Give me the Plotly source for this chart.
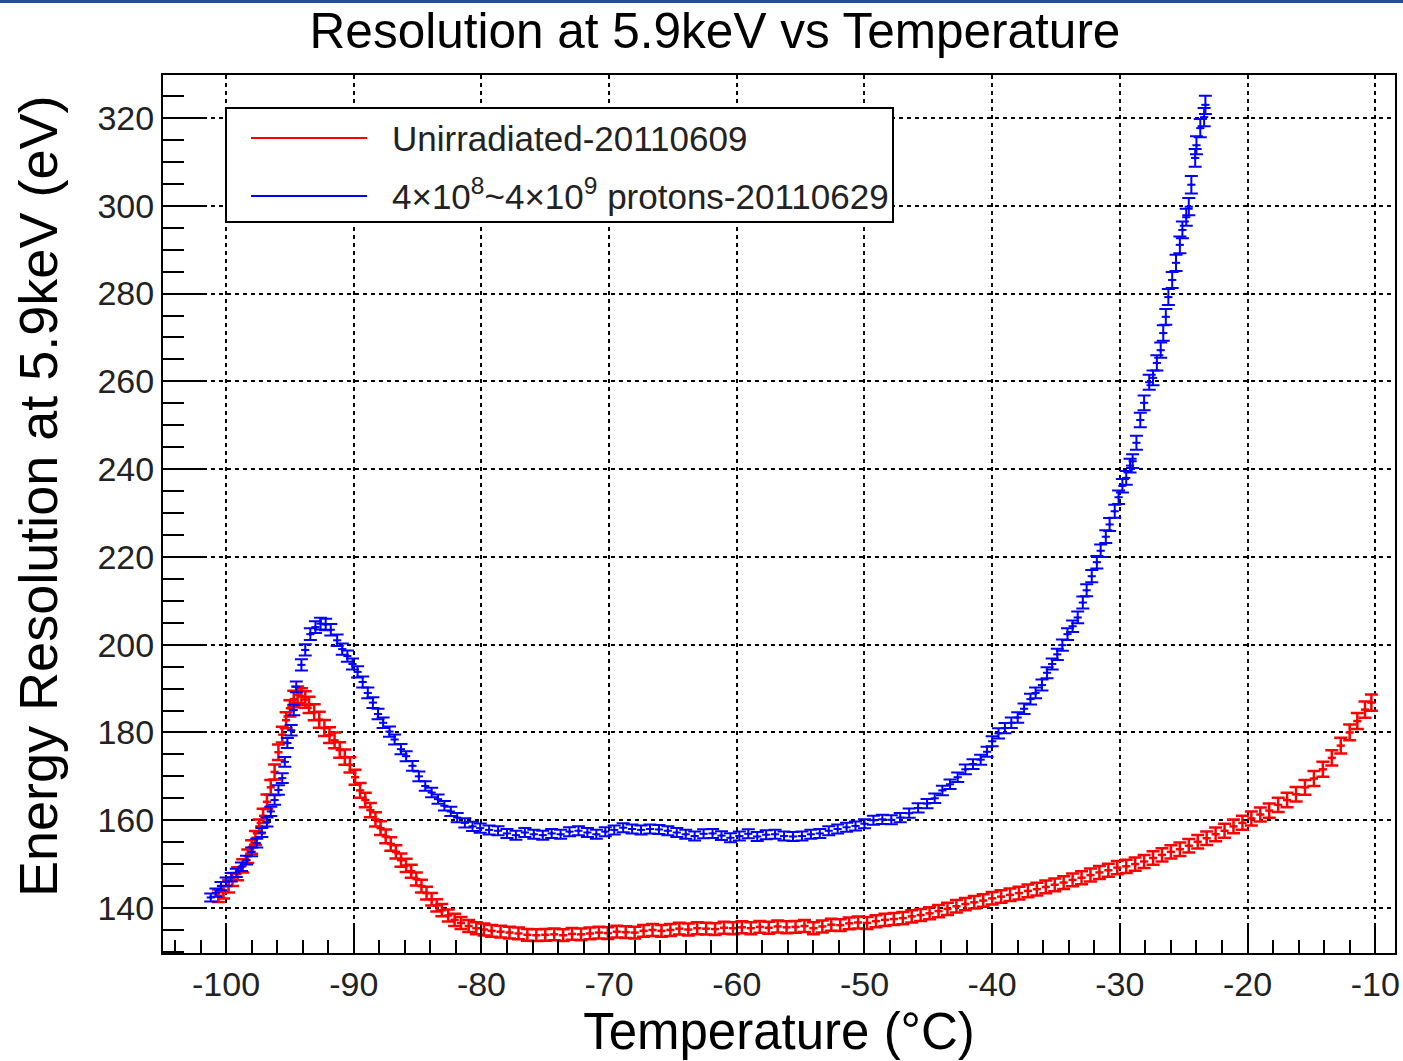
import plotly.graph_objects as go

# ---- data ----
red_T = [-100.6, -100.2, -99.8, -99.5, -99.1, -98.7, -98.3, -98.0, -97.7, -97.4, -97.1, -96.8, -96.5, -96.2,
         -95.9, -95.6, -95.3, -95.0, -94.7, -94.4, -94.1, -93.8, -93.5, -93.1, -92.7, -92.3, -91.9, -91.5,
         -91.1, -90.7, -90.3, -89.9, -89.5, -89.1, -88.7, -88.3, -87.9, -87.5, -87.1, -86.7, -86.3, -85.9,
         -85.5, -85.1, -84.7, -84.3, -83.9, -83.5, -83.1, -82.6, -82.1, -81.6, -81.0, -80.4, -79.8, -79.2,
         -78.5, -77.8, -77.1, -76.4, -75.7, -75.0, -74.3, -73.6, -72.9, -72.2, -71.5, -70.8, -70.1, -69.4,
         -68.7, -68.0, -67.3, -66.6, -65.9, -65.2, -64.5, -63.8, -63.1, -62.4, -61.7, -61.0, -60.3, -59.6,
         -58.9, -58.2, -57.5, -56.8, -56.1, -55.4, -54.7, -54.0, -53.3, -52.6, -51.9, -51.2, -50.5, -49.8,
         -49.1, -48.4, -47.7, -47.0, -46.3, -45.6, -44.9, -44.2, -43.5, -42.8, -42.1, -41.4, -40.7, -40.0,
         -39.3, -38.6, -37.9, -37.2, -36.5, -35.8, -35.1, -34.4, -33.7, -33.0, -32.3, -31.6, -30.9, -30.2,
         -29.5, -28.8, -28.1, -27.4, -26.7, -26.0, -25.3, -24.6, -23.9, -23.2, -22.5, -21.8, -21.1, -20.4,
         -19.7, -19.0, -18.3, -17.6, -16.9, -16.2, -15.5, -14.8, -14.1, -13.4, -12.7, -12.0, -11.4, -10.8,
         -10.3]
red_R = [142.8, 143.6, 145.0, 146.5, 147.8, 149.6, 151.8, 153.9, 156.0, 158.6, 161.0, 164.2, 167.5, 171.0,
         175.5, 179.5, 182.8, 185.5, 187.6, 188.6, 188.2, 187.5, 186.3, 184.6, 182.9, 181.0, 179.4, 178.2,
         176.0, 174.4, 172.6, 169.8, 166.8, 164.6, 162.3, 160.2, 158.2, 156.3, 154.6, 152.8, 150.9, 149.7,
         148.4, 146.6, 145.0, 143.4, 142.0, 140.6, 139.5, 138.3, 137.3, 136.6, 135.9, 135.4, 135.1, 134.8,
         134.6, 134.4, 134.2, 133.9, 133.8, 133.9, 134.0, 133.8, 134.1, 134.0, 134.2, 134.4, 134.3, 134.6,
         134.5, 134.4, 134.8, 135.0, 134.8, 135.0, 135.3, 135.1, 135.4, 135.3, 135.2, 135.5, 135.4, 135.6,
         135.4, 135.7, 135.5, 135.8, 135.6, 135.7, 135.9, 135.4, 135.8, 136.2, 136.1, 136.5, 136.7, 136.6,
         137.0, 137.3, 137.5, 137.7, 138.1, 138.4, 138.8, 139.3, 139.8, 140.4, 140.9, 141.3, 141.7, 142.2,
         142.6, 143.0, 143.4, 143.9, 144.3, 144.8, 145.3, 145.8, 146.4, 146.9, 147.5, 148.1, 148.6, 149.2,
         149.5, 150.0, 150.6, 151.4, 152.1, 152.8, 153.4, 154.2, 155.1, 155.9, 156.8, 157.6, 158.6, 159.4,
         160.4, 161.3, 162.2, 163.5, 164.6, 165.9, 167.5, 169.5, 171.6, 174.2, 177.0, 180.0, 182.6, 185.2,
         186.8]

blue_T = [-101.2, -100.8, -100.4, -100.0, -99.6, -99.2, -98.8, -98.4, -98.0, -97.6, -97.2, -96.8, -96.5,
          -96.2, -95.9, -95.6, -95.4, -95.2, -94.9, -94.7, -94.5, -94.1, -93.8, -93.4, -93.0, -92.6, -92.2,
          -91.8, -91.3, -90.9, -90.5, -90.1, -89.7, -89.3, -88.9, -88.5, -88.1, -87.7, -87.2, -86.8, -86.3,
          -85.9, -85.4, -84.9, -84.4, -83.9, -83.4, -82.9, -82.4, -81.9, -81.3, -80.7, -80.1, -79.4, -78.7,
          -78.0, -77.3, -76.6, -75.9, -75.2, -74.5, -73.8, -73.1, -72.4, -71.7, -71.0, -70.3, -69.6, -68.9,
          -68.2, -67.5, -66.8, -66.1, -65.4, -64.7, -64.0, -63.3, -62.6, -61.9, -61.2, -60.5, -59.8, -59.1,
          -58.4, -57.7, -57.0, -56.3, -55.6, -54.9, -54.2, -53.5, -52.8, -52.1, -51.4, -50.7, -50.0, -49.3,
          -48.6, -47.9, -47.2, -46.5, -45.8, -45.1, -44.5, -43.9, -43.3, -42.7, -42.1, -41.5, -40.9, -40.4,
          -40.0, -39.5, -39.0, -38.5, -38.0, -37.5, -37.0, -36.6, -36.1, -35.7, -35.3, -34.9, -34.5, -34.1,
          -33.7, -33.3, -32.9, -32.6, -32.2, -31.8, -31.5, -31.1, -30.8, -30.4, -30.1, -29.8, -29.5, -29.2,
          -29.0, -28.7, -28.4, -28.1, -27.7, -27.4, -27.1, -26.8, -26.6, -26.4, -26.2, -25.9, -25.6, -25.3,
          -25.1, -24.8, -24.6, -24.4, -24.1, -24.0, -23.7, -23.4, -23.3]
blue_R = [142.4, 143.5, 145.0, 146.0, 147.0, 148.0, 149.4, 150.9, 152.8, 154.8, 157.2, 159.6, 162.0,
          164.6, 166.9, 169.6, 173.3, 177.6, 180.5, 185.1, 190.4, 195.4, 198.8, 202.4, 204.0, 204.8, 204.6,
          203.4, 201.0, 199.0, 197.4, 195.6, 193.8, 191.5, 189.0, 186.8, 184.2, 182.2, 180.2, 178.4, 176.2,
          174.6, 172.4, 170.0, 167.8, 166.3, 164.8, 163.3, 162.0, 160.6, 159.4, 158.6, 158.2, 157.8, 157.6,
          157.0, 156.6, 157.2, 156.8, 156.6, 157.0, 156.8, 157.4, 157.6, 157.2, 156.8, 157.4, 157.8, 158.3,
          158.0, 157.8, 158.0, 157.9, 157.6, 157.2, 156.8, 156.4, 156.9, 157.0, 156.5, 156.0, 156.4, 156.9,
          156.3, 156.7, 156.8, 156.4, 156.3, 156.4, 156.8, 157.0, 157.6, 158.0, 158.4, 158.7, 159.2, 160.0,
          160.2, 160.1, 160.6, 161.6, 162.8, 163.8, 165.0, 166.8, 168.2, 169.8, 171.6, 172.8, 173.8, 175.6,
          178.0, 179.8, 181.0, 182.2, 183.4, 185.4, 187.6, 189.0, 190.8, 193.6, 195.6, 197.8, 199.9, 202.4,
          204.2, 206.2, 209.6, 212.4, 215.6, 218.8, 221.4, 224.6, 227.4, 230.4, 233.6, 236.2, 238.0, 240.8,
          241.8, 246.0, 251.2, 255.1, 259.8, 260.8, 264.2, 267.1, 271.0, 274.7, 279.2, 283.1, 287.0, 291.1,
          294.5, 297.4, 299.8, 304.8, 310.9, 313.8, 317.7, 320.2, 323.0]

series_names = ["Unirradiated-20110609", "4×10<sup>8</sup>~4×10<sup>9</sup> protons-20110629"]
x_ticks = [-100, -90, -80, -70, -60, -50, -40, -30, -20, -10]
x_ticktext = ["-100", "-90", "-80", "-70", "-60", "-50", "-40", "-30", "-20", "-10"]
y_ticks = [140, 160, 180, 200, 220, 240, 260, 280, 300, 320]

FONT = "Liberation Sans, Arial, sans-serif"
RED = "#ff0000"
BLUE = "#0000ff"

fig = go.Figure()
for T, R, col, pct, thick, name in [(red_T, red_R, RED, 1.0, 2.5, series_names[0]),
                                    (blue_T, blue_R, BLUE, 0.65, 2, series_names[1])]:
    fig.add_trace(go.Scatter(
        x=T, y=R, mode="markers", name=name, showlegend=False,
        marker=dict(color=col, size=3),
        error_y=dict(type="percent", value=pct, color=col, thickness=thick, width=6.5),
        error_x=dict(type="constant", value=0.32, color=col, thickness=thick, width=0),
    ))

W, H = 1403, 1061
L, Rm, Tm, B = 163, 8, 75, 108
pw, ph = W - L - Rm, H - Tm - B

def px(xp):
    return (xp - L) / pw

def py(yp):
    return 1 - (yp - Tm) / ph

shapes = [
    # slide banner strip at the very top
    dict(type="rect", xref="paper", yref="paper", x0=px(0), x1=px(W), y0=py(3), y1=py(0),
         fillcolor="#24508f", line=dict(width=0), layer="above"),
    # legend box
    dict(type="rect", xref="paper", yref="paper", x0=px(226), x1=px(893), y0=py(222), y1=py(108),
         fillcolor="white", line=dict(color="black", width=2), layer="above"),
    dict(type="line", xref="paper", yref="paper", x0=px(251), x1=px(367), y0=py(138), y1=py(138),
         line=dict(color=RED, width=2), layer="above"),
    dict(type="line", xref="paper", yref="paper", x0=px(251), x1=px(367), y0=py(196), y1=py(196),
         line=dict(color=BLUE, width=2), layer="above"),
]
annotations = [
    dict(text=series_names[0], xref="paper", yref="paper", x=px(390), y=py(138), xanchor="left",
         yanchor="middle", showarrow=False, font=dict(family=FONT, size=35, color="#222222")),
    dict(text=series_names[1], xref="paper", yref="paper", x=px(390), y=py(194), xanchor="left",
         yanchor="middle", showarrow=False, font=dict(family=FONT, size=35, color="#222222")),
    # y-axis title
    dict(text="Energy Resolution at 5.9keV (eV)", xref="paper", yref="paper", x=px(38), y=py(497),
         xanchor="center", yanchor="middle", textangle=-90, showarrow=False,
         font=dict(family=FONT, size=54, color="black")),
]

axis_common = dict(
    showline=True, linecolor="black", linewidth=2, mirror=True,
    ticks="inside", tickcolor="black", tickwidth=2,
    showgrid=True, gridcolor="black", gridwidth=1.5, griddash="4px,4px",
    zeroline=False, tickfont=dict(family=FONT, size=34, color="#222222"),
    ticklabeloverflow="allow",
)

fig.update_layout(
    width=W, height=H,
    margin=dict(l=L, r=Rm, t=Tm, b=B, autoexpand=False),
    paper_bgcolor="white", plot_bgcolor="white",
    title=dict(text="Resolution at 5.9keV vs Temperature", x=715 / W, xanchor="center",
               y=1 - 31 / H, yanchor="middle", xref="container",
               font=dict(family=FONT, size=49.5, color="black")),
    xaxis=dict(range=[-104.94, -8.45], tickvals=x_ticks, ticktext=x_ticktext, ticklen=28,
               minor=dict(dtick=2, ticks="inside", ticklen=13, tickcolor="black", tickwidth=2),
               title=dict(text="Temperature (°C)", standoff=12,
                          font=dict(family=FONT, size=51, color="black")),
               **axis_common),
    yaxis=dict(range=[129.75, 329.8], tickvals=y_ticks, ticklen=42,
               minor=dict(dtick=5, ticks="inside", ticklen=21, tickcolor="black", tickwidth=2),
               **axis_common),
    shapes=shapes, annotations=annotations,
)

fig.write_html("out.html")
